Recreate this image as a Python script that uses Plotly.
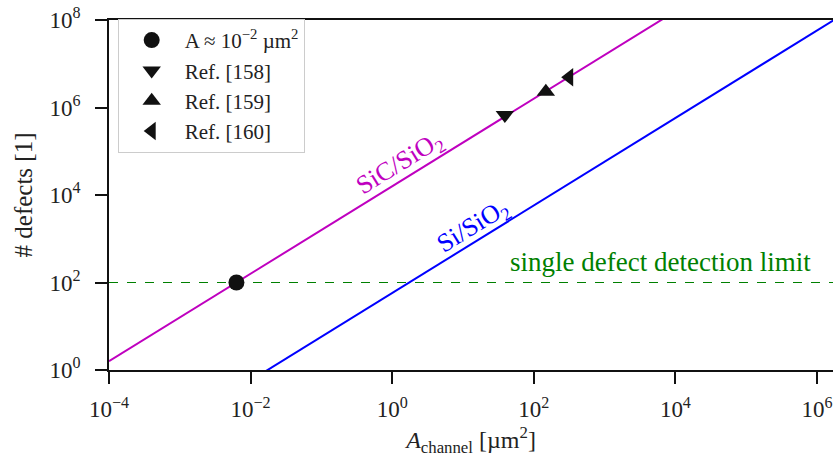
import plotly.graph_objects as go

# ---- data ----
area_span = [1e-4, 1e7]            # µm², extent of the model lines
sic_density = 10 ** 4.2             # defects per µm² (SiC/SiO2)
si_density = 10 ** 1.76             # defects per µm² (Si/SiO2)
detect_limit = 100                  # single defect detection limit

point_a_x = [10 ** -2.2]
point_a_y = [100]
ref158_x = [39]
ref158_y = [6.7e5]
ref159_x = [148]
ref159_y = [2.3e6]
ref160_x = [316]
ref160_y = [4.9e6]

x_tickvals = [1e-4, 1e-2, 1e0, 1e2, 1e4, 1e6]
x_ticktext = ["10<sup>−4</sup>", "10<sup>−2</sup>", "10<sup>0</sup>", "10<sup>2</sup>", "10<sup>4</sup>", "10<sup>6</sup>"]
y_tickvals = [1e0, 1e2, 1e4, 1e6, 1e8]
y_ticktext = ["10<sup>0</sup>", "10<sup>2</sup>", "10<sup>4</sup>", "10<sup>6</sup>", "10<sup>8</sup>"]

FONT = "Liberation Serif"
MAG = "#bf00bf"
BLUE = "#0000ff"
GREEN = "#008000"
INK = "#111111"
TXT = "#222222"

fig = go.Figure()

sic_y = [sic_density * a for a in area_span]
si_y = [si_density * a for a in area_span]

fig.add_trace(go.Scatter(x=area_span, y=sic_y, mode="lines",
                         line=dict(color=MAG, width=2), showlegend=False, hoverinfo="skip"))
fig.add_trace(go.Scatter(x=area_span, y=si_y, mode="lines",
                         line=dict(color=BLUE, width=2), showlegend=False, hoverinfo="skip"))
fig.add_trace(go.Scatter(x=area_span, y=[detect_limit, detect_limit], mode="lines",
                         line=dict(color=GREEN, width=1, dash="dash"), showlegend=False, hoverinfo="skip"))

fig.add_trace(go.Scatter(x=point_a_x, y=point_a_y, mode="markers",
                         marker=dict(symbol="circle", size=16, color=INK),
                         name="A ≈ 10<sup>−2</sup> µm<sup>2</sup>"))
fig.add_trace(go.Scatter(x=ref158_x, y=ref158_y, mode="markers",
                         marker=dict(symbol="triangle-down", size=16, color=INK),
                         name="Ref. [158]"))
fig.add_trace(go.Scatter(x=ref159_x, y=ref159_y, mode="markers",
                         marker=dict(symbol="triangle-up", size=16, color=INK),
                         name="Ref. [159]"))
fig.add_trace(go.Scatter(x=ref160_x, y=ref160_y, mode="markers",
                         marker=dict(symbol="triangle-left", size=16, color=INK),
                         name="Ref. [160]"))

fig.add_annotation(x=0.106, y=4.72, xref="x", yref="y", text="SiC/SiO<sub>2</sub>",
                   showarrow=False, textangle=-31.7, font=dict(family=FONT, size=26, color=MAG))
fig.add_annotation(x=1.137, y=3.28, xref="x", yref="y", text="Si/SiO<sub>2</sub>",
                   showarrow=False, textangle=-31.7, font=dict(family=FONT, size=26, color=BLUE))
fig.add_annotation(x=5.94, y=2.47, xref="x", yref="y", text="single defect detection limit",
                   showarrow=False, xanchor="right", font=dict(family=FONT, size=27, color=GREEN))

axis_common = dict(type="log", showgrid=False, zeroline=False, showline=True,
                   linecolor=INK, linewidth=1.5, ticks="outside", ticklen=12, tickwidth=1.5,
                   tickcolor=INK, ticklabeloverflow="allow",
                   tickfont=dict(family=FONT, size=23, color=TXT))

fig.update_xaxes(**axis_common, range=[-4, 6.226], tickvals=x_tickvals, ticktext=x_ticktext,
                 mirror=True, ticklabelstandoff=6,
                 title=dict(text="<i>A</i><sub>channel</sub> [µm<sup>2</sup>]",
                            font=dict(family=FONT, size=24, color=TXT), standoff=12))
fig.update_yaxes(**axis_common, range=[0, 8], tickvals=y_tickvals, ticktext=y_ticktext,
                 ticklabelstandoff=10,
                 title=dict(text="# defects [1]", font=dict(family=FONT, size=25, color=TXT), standoff=10))

fig.update_layout(
    width=833, height=457,
    margin=dict(l=109, r=0, t=20, b=87),
    plot_bgcolor="white", paper_bgcolor="white",
    legend=dict(x=0.012, y=1.003, xanchor="left", yanchor="top",
                bgcolor="rgba(255,255,255,0.9)", bordercolor="#cccccc", borderwidth=1,
                font=dict(family=FONT, size=21, color=TXT), itemwidth=56),
)

fig.write_html("out.html")
